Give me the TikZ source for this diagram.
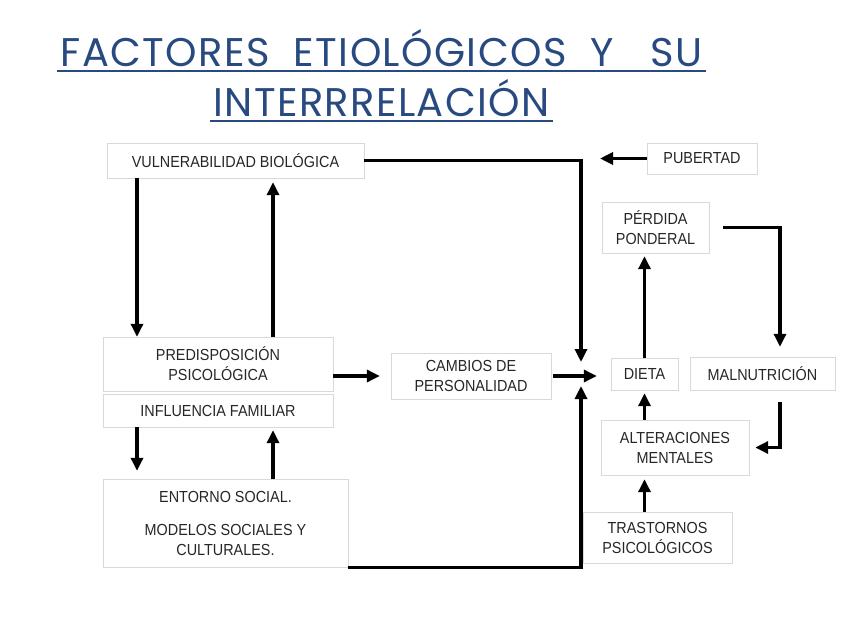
\documentclass[tikz,border=0pt]{standalone}
\usepackage{fontspec}
\setmainfont{Liberation Sans}
\newfontfamily\cajafont[FakeStretch=0.9]{Liberation Sans}
\newfontfamily\titlefont[LetterSpace=3.5]{Poppins}
\usetikzlibrary{arrows.meta}
\definecolor{titleblue}{RGB}{40,74,128}

\begin{document}
\begin{tikzpicture}[x=1pt,y=-1pt,
  caja/.style={draw=black!15,inner sep=0pt,align=center,text=black!85,
    font=\cajafont\fontsize{16}{20}\selectfont},
  flecha/.style={line width=3.2pt,-{Triangle[length=13pt,width=12pt]}},
  titulo/.style={anchor=base,inner sep=3pt,text=titleblue,
    font=\titlefont\fontsize{40}{40}\selectfont}]
  \useasboundingbox (0,0) rectangle (848,636);
  % title
  \node[titulo] (t1) at (381.5,67) {FACTORES\ \ ETIOLÓGICOS\ \ Y\ \ \ SU};
  \node[titulo] (t2) at (381.5,117) {INTERRRELACIÓN};
  \draw[titleblue,line width=2pt] ([yshift=-4pt]t1.base west) -- ([yshift=-4pt]t1.base east);
  \draw[titleblue,line width=2pt] ([yshift=-4pt]t2.base west) -- ([yshift=-4pt]t2.base east);
  % boxes
  \node[caja,minimum width=257,minimum height=35] (vul) at (235.5,160.5) {VULNERABILIDAD BIOLÓGICA};
  \node[caja,minimum width=110,minimum height=31] (pub) at (702,158.5) {PUBERTAD};
  \node[caja,minimum width=107,minimum height=51] (per) at (655.5,227.5) {PÉRDIDA\\PONDERAL};
  \node[caja,minimum width=230,minimum height=54] (pre) at (218,364) {PREDISPOSICIÓN\\PSICOLÓGICA};
  \node[caja,minimum width=230,minimum height=33] (inf) at (218,410.5) {INFLUENCIA FAMILIAR};
  \node[caja,minimum width=160,minimum height=46] (cam) at (471,376) {CAMBIOS DE\\PERSONALIDAD};
  \node[caja,minimum width=245,minimum height=88] (ent) at (225.5,523) {ENTORNO SOCIAL.\\[13pt]MODELOS SOCIALES Y\\CULTURALES.};
  \node[caja,minimum width=67,minimum height=32] (die) at (644.5,374) {DIETA};
  \node[caja,minimum width=145,minimum height=33] (mal) at (762.5,373.5) {MALNUTRICIÓN};
  \node[caja,minimum width=148,minimum height=55] (alt) at (675,447.5) {ALTERACIONES\\MENTALES};
  \node[caja,minimum width=149,minimum height=51] (tra) at (657.5,537.5) {TRASTORNOS\\PSICOLÓGICOS};
  % columns and junctions
  \coordinate (xa) at (137,0); \coordinate (xb) at (273,0); \coordinate (xm) at (780,0);
  \coordinate (jt) at (581,362); \coordinate (jb) at (581,386);
  \coordinate (pt) at (600,158.5);
  % arrows
  \draw[flecha] (vul.south -| xa) -- (pre.north -| xa);
  \draw[flecha,shorten >=4pt] (pre.north -| xb) -- (vul.south -| xb);
  \draw[flecha] (vul.east) -| (jt);
  \draw[flecha] (pub.west) -- (pt);
  \draw[flecha,shorten <=14pt,shorten >=10pt] (per.east) -| (mal.north -| xm);
  \draw[flecha,shorten >=3pt] (die.north) -- (per.south -| die.north);
  \draw[flecha,shorten >=11pt] (pre.east |- cam.west) -- (cam.west);
  \draw[flecha,shorten <=2pt,shorten >=14pt] (cam.east) -- (cam.east -| die.west);
  \draw[flecha,shorten >=8pt] (inf.south -| xa) -- (ent.north -| xa);
  \draw[flecha,shorten >=3pt] (ent.north -| xb) -- (inf.south -| xb);
  \draw[flecha] (ent.south east) -| (jb);
  \draw[flecha,shorten >=3pt] (alt.north -| die.south) -- (die.south);
  \draw[flecha,shorten <=12pt,shorten >=6pt] (mal.south -| xm) |- (alt.east);
  \draw[flecha,shorten >=4pt] (tra.north -| die.south) -- (alt.south -| die.south);
\end{tikzpicture}
\end{document}
